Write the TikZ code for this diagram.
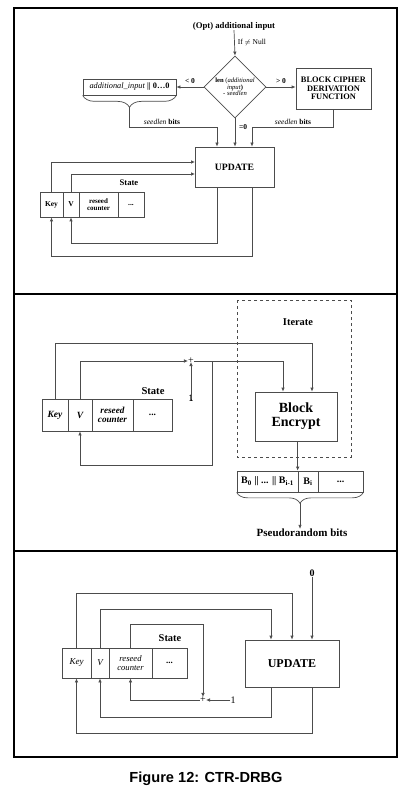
\documentclass[tikz,border=0pt]{standalone}
\usepackage{fontspec}
\setmainfont{Liberation Serif}
\newfontfamily\capfont{Liberation Sans}
\usetikzlibrary{arrows.meta,shapes.geometric,decorations.pathreplacing}

\tikzset{
	ln/.style={draw=black!70, line width=0.7pt},
	arr/.style={ln, -{Latex[length=4pt,width=3.5pt]}},
	box/.style={ln, inner sep=0pt, align=center},
	frame/.style={draw=black, line width=1.3pt},
	lbl/.style={inner sep=0pt, align=center},
	fs/.style={font=\fontsize{#1}{#1}\selectfont},
	bfs/.style={font=\bfseries\fontsize{#1}{#1}\selectfont},
	ifs/.style={font=\itshape\fontsize{#1}{#1}\selectfont},
	bifs/.style={font=\bfseries\itshape\fontsize{#1}{#1}\selectfont},
}

\begin{document}
\begin{tikzpicture}[x=1pt,y=-1pt]
	\useasboundingbox (0,0) rectangle (412,791);
	\draw[frame] (14,8) rectangle (397,294);
	\draw[frame] (14,294) rectangle (397,551);
	\draw[frame] (14,551) rectangle (397,757);

	\node[lbl, bfs=8.7] (optin) at (234,26) {(Opt) additional input};
	\node[box, diamond, minimum width=62pt, minimum height=62pt] (cmp) at (235,87) {};
	\node[lbl, fs=6.6] (cmptxt) at (cmp.center)
		{\textbf{len} (\textit{additional}\\\textit{input}\textbf{)}\\- \textit{seedlen}};
	\draw[arr] (optin.south) -- (cmp.north) node[lbl, midway, right=3pt, fs=7.5] {If $\neq$ Null};
	\node[box, minimum width=93pt, minimum height=16pt, fs=8.3] (pad) at (129.5,87)
		{\textit{additional\_input} \textbf{|| 0…0}};
	\node[box, minimum width=75pt, minimum height=41pt, bfs=8.4] (bcdf) at (333.5,88.5)
		{BLOCK CIPHER\\DERIVATION\\FUNCTION};
	\node[box, minimum width=79pt, minimum height=40pt, bfs=9.7] (upd1) at (234.5,167) {UPDATE};
	\draw[arr] (cmp.west) -- (pad.east) node[lbl, midway, above=3pt, bfs=7.5] {< 0};
	\draw[arr] (cmp.east) -- (cmp.east -| bcdf.west) node[lbl, midway, above=3pt, bfs=7.5] {> 0};
	\draw[ln, decorate, decoration={brace, mirror, amplitude=12pt}] (pad.south west) -- (pad.south east);
	\coordinate (padtip) at (129.5,107);
	\coordinate (sl1) at (217,127);
	\coordinate (sr1) at (252,127);
	\draw[arr] (padtip) |- (sl1) -- (sl1 |- upd1.north);
	\draw[arr] (bcdf.south) |- (sr1) -- (sr1 |- upd1.north);
	\draw[arr] (cmp.south) -- (cmp.south |- upd1.north);
	\node[lbl, fs=7.5] (sbl) at (162,122) {\textit{seedlen} \textbf{bits}};
	\node[lbl, fs=7.5] (sbr) at (293,122) {\textit{seedlen} \textbf{bits}};
	\node[lbl, bfs=7.5, anchor=west] (eq0) at (239,127) {=0};

	\node[box, minimum width=23pt, minimum height=25pt, bfs=7.5] (key1) at (51.5,204.5) {Key};
	\node[box, minimum width=16pt, minimum height=25pt, bfs=7.5] (v1) at (71,204.5) {V};
	\node[box, minimum width=39pt, minimum height=25pt, bfs=7] (ctr1) at (98.5,204.5) {reseed\\counter};
	\node[box, minimum width=26pt, minimum height=25pt, bfs=7.5] (dots1) at (131,204.5) {...};
	\node[lbl, bfs=8.6] (st1) at (129,183) {State};
	\coordinate (ku1) at (195,162);
	\coordinate (vu1) at (195,174);
	\coordinate (ur1) at (217,243);
	\coordinate (uk1) at (252,256);
	\draw[arr] (key1.north) |- (ku1);
	\draw[arr] (v1.north) |- (vu1);
	\draw[arr] (upd1.south -| ur1) -- (ur1) -| (v1.south);
	\draw[arr] (upd1.south -| uk1) -- (uk1) -| (key1.south);

	\draw[ln, dashed] (237,300) rectangle (351,457);
	\node[lbl, bfs=10.4] (iter) at (298,322) {Iterate};
	\node[box, minimum width=82pt, minimum height=49pt, bfs=14] (enc) at (296,416.5) {Block\\Encrypt};
	\node[box, minimum width=26pt, minimum height=32pt, bifs=9.5] (key2) at (55,415) {Key};
	\node[box, minimum width=24pt, minimum height=32pt, bifs=9.5] (v2) at (80,415) {V};
	\node[box, minimum width=41pt, minimum height=32pt, bifs=9.2] (ctr2) at (112.5,415) {reseed\\counter};
	\node[box, minimum width=39pt, minimum height=32pt, bfs=9.5] (dots2) at (152.5,415) {...};
	\node[lbl, bfs=10.6] (st2) at (153,391) {State};
	\node[lbl, fs=10] (plus2) at (191,361) {+};
	\node[lbl, bfs=10] (one2) at (191,398) {1};
	\coordinate (kb2) at (312,343);
	\coordinate (vb2) at (283,361);
	\coordinate (br2) at (212,361);
	\coordinate (ret2) at (212,465);
	\draw[arr] (key2.north) |- (kb2) -- (kb2 |- enc.north);
	\draw[arr] (v2.north) |- (plus2.west);
	\draw[arr] (plus2.east) -- (vb2) -- (vb2 |- enc.north);
	\draw[arr] (br2) -- (ret2) -| (v2.south);
	\draw[arr] ([yshift=-4pt]one2.north) -- ([yshift=2pt]plus2.south);
	\node[box, minimum width=61pt, minimum height=21pt, bfs=10] (b0) at (267.5,481.5) {B\textsubscript{0} || ... || B\textsubscript{i-1}};
	\node[box, minimum width=20pt, minimum height=21pt, bfs=10] (bi) at (308,481.5) {B\textsubscript{i}};
	\node[box, minimum width=45pt, minimum height=21pt, bfs=10] (bdots) at (340.5,481.5) {...};
	\draw[arr] (enc.south -| bi.north west) -- (bi.north west);
	\draw[ln, decorate, decoration={brace, mirror, amplitude=11pt}] (b0.south west) -- (bdots.south east);
	\coordinate (btip) at (300,503);
	\node[lbl, bfs=11] (prb) at (302,533) {Pseudorandom bits};
	\draw[arr] (btip) -- (btip |- prb.north);

	\node[lbl, bfs=10] (zero3) at (312,573) {0};
	\node[box, minimum width=94pt, minimum height=47pt, bfs=12] (upd3) at (292,663.5) {UPDATE};
	\node[box, minimum width=29pt, minimum height=30pt, ifs=9] (key3) at (76.5,663) {Key};
	\node[box, minimum width=18pt, minimum height=30pt, ifs=9] (v3) at (100,663) {V};
	\node[box, minimum width=43pt, minimum height=30pt, ifs=8.6] (ctr3) at (130.5,663) {reseed\\counter};
	\node[box, minimum width=35pt, minimum height=30pt, bfs=9] (dots3) at (169.5,663) {...};
	\node[lbl, bfs=10.4] (st3) at (170,638) {State};
	\node[lbl, fs=10] (plus3) at (203,700) {+};
	\node[lbl, fs=10] (one3) at (233,700) {1};
	\coordinate (kb3) at (292,593);
	\coordinate (vb3) at (271,609);
	\coordinate (cb3) at (203,624);
	\coordinate (rv3) at (271,717);
	\coordinate (rk3) at (312,733);
	\draw[arr] (zero3.south) -- (zero3.south |- upd3.north);
	\draw[arr] (key3.north) |- (kb3) -- (kb3 |- upd3.north);
	\draw[arr] (v3.north) |- (vb3) -- (vb3 |- upd3.north);
	\draw[arr] (ctr3.north) |- (cb3) -- (plus3.north);
	\draw[arr] (one3.west) -- (plus3.east);
	\draw[arr] (plus3.west) -| (ctr3.south);
	\draw[arr] (upd3.south -| rv3) -- (rv3) -| (v3.south);
	\draw[arr] (upd3.south -| rk3) -- (rk3) -| (key3.south);

	\node[lbl, font=\capfont\bfseries\fontsize{14.6}{15}\selectfont] (cap) at (206,779) {Figure 12: CTR-DRBG};
\end{tikzpicture}
\end{document}
